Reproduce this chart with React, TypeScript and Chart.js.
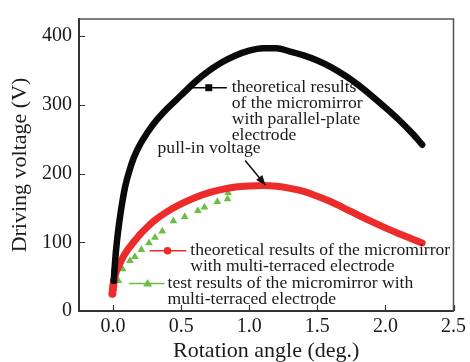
import React, { useEffect, useRef } from "react";
import { Chart, registerables } from "chart.js";

Chart.register(...registerables);

// Theoretical, parallel-plate electrode (black)
const parallelX = [0.005, 0.01, 0.015, 0.02, 0.03, 0.045, 0.065, 0.09, 0.12, 0.15, 0.2, 0.25, 0.3, 0.4, 0.5, 0.6, 0.7, 0.8, 0.9, 1.0, 1.1, 1.2, 1.3, 1.4, 1.5, 1.6, 1.7, 1.8, 1.9, 2.0, 2.1, 2.2, 2.27];
const parallelY = [44, 58, 72, 84, 104, 128, 155, 182, 204, 222, 243, 259, 273, 295, 314, 333, 349, 362, 372, 379, 382.5, 382.5, 377.5, 372, 364.5, 355, 343, 329, 313, 296, 278, 258, 242];

// Theoretical, multi-terraced electrode (red)
const terracedX = [-0.005, -0.002, 0.002, 0.006, 0.015, 0.03, 0.05, 0.075, 0.1, 0.15, 0.2, 0.25, 0.3, 0.4, 0.5, 0.6, 0.7, 0.8, 0.9, 1.0, 1.1, 1.2, 1.3, 1.4, 1.5, 1.6, 1.7, 1.8, 1.9, 2.0, 2.1, 2.2, 2.27];
const terracedY = [25, 31, 37, 43, 52, 60, 69, 79, 87, 100, 112, 122, 131, 145, 156, 165, 172, 177, 180.5, 182, 182.5, 181.5, 178.5, 174, 167, 159, 149.5, 139.5, 130, 121, 112.5, 104.5, 99];

// Test results, multi-terraced electrode (green)
const testX = [0.039, 0.07, 0.124, 0.16, 0.208, 0.264, 0.308, 0.361, 0.443, 0.526, 0.623, 0.671, 0.766, 0.841, 0.845];
const testY = [44, 61, 73, 79, 89, 99, 107, 116, 131, 137, 146, 151, 159, 163, 172];

const xTicks = [0, 0.5, 1.0, 1.5, 2.0, 2.5];
const yTicks = [0, 100, 200, 300, 400];

const blackLabel = ["theoretical results", "of the micromirror", "with parallel-plate", "electrode"];
const redLabel = ["theoretical results of the micromirror", "with multi-terraced electrode"];
const greenLabel = ["test results of the micromirror with", "multi-terraced electrode"];
const pullInLabel = "pull-in voltage";

const BLACK = "#0a0a0a";
const RED = "#ee2b2b";
const GREEN = "#6dbd45";
const SERIF = "'Liberation Serif', 'Times New Roman', serif";

const toPts = (xs: number[], ys: number[]) => xs.map((x, i) => ({ x, y: ys[i] }));

const annotationPlugin = {
  id: "annots",
  afterDraw(chart: any) {
    const { ctx, chartArea, scales } = chart;
    const xs = scales.x;
    const ys = scales.y;
    const px = (v: number) => xs.getPixelForValue(v);
    const py = (v: number) => ys.getPixelForValue(v);
    ctx.save();
    // frame top/right
    ctx.strokeStyle = "#555";
    ctx.lineWidth = 1.5;
    ctx.beginPath();
    ctx.moveTo(chartArea.left, chartArea.top);
    ctx.lineTo(chartArea.right, chartArea.top);
    ctx.lineTo(chartArea.right, chartArea.bottom);
    ctx.stroke();
    // inward ticks
    ctx.strokeStyle = "#333";
    ctx.lineWidth = 1.2;
    ctx.beginPath();
    xs.ticks.forEach((t: any) => {
      const x = Math.round(px(t.value)) + 0.5;
      ctx.moveTo(x, chartArea.bottom);
      ctx.lineTo(x, chartArea.bottom - 6);
    });
    ys.ticks.forEach((t: any) => {
      const y = Math.round(py(t.value)) + 0.5;
      ctx.moveTo(chartArea.left, y);
      ctx.lineTo(chartArea.left + 6, y);
    });
    ctx.stroke();

    ctx.font = `17.6px ${SERIF}`;
    ctx.textBaseline = "middle";
    ctx.textAlign = "left";
    ctx.fillStyle = "#1a1a1a";
    const lineStep = 16;

    const drawLines = (lines: string[], x: number, y: number) => {
      lines.forEach((s, i) => ctx.fillText(s, x, y + i * lineStep));
    };

    // black legend entry
    {
      const y = py(325);
      ctx.strokeStyle = BLACK;
      ctx.lineWidth = 1.5;
      ctx.beginPath();
      ctx.moveTo(px(0.574), y);
      ctx.lineTo(px(0.836), y);
      ctx.stroke();
      ctx.fillStyle = BLACK;
      ctx.fillRect(px(0.703) - 3.5, y - 3.5, 7, 7);
      ctx.fillStyle = "#1a1a1a";
      drawLines(blackLabel, px(0.872), y);
    }
    // pull-in label + arrow
    {
      ctx.fillText(pullInLabel, px(0.327), py(236));
      const x0 = px(0.97), y0 = py(219);
      const x1 = px(1.12), y1 = py(183);
      ctx.strokeStyle = "#111";
      ctx.lineWidth = 1.5;
      ctx.beginPath();
      ctx.moveTo(x0, y0);
      ctx.lineTo(x1, y1);
      ctx.stroke();
      const ang = Math.atan2(y1 - y0, x1 - x0);
      const L = 10, W = 4;
      ctx.fillStyle = "#111";
      ctx.beginPath();
      ctx.moveTo(x1, y1);
      ctx.lineTo(x1 - L * Math.cos(ang) + W * Math.sin(ang), y1 - L * Math.sin(ang) - W * Math.cos(ang));
      ctx.lineTo(x1 - L * Math.cos(ang) - W * Math.sin(ang), y1 - L * Math.sin(ang) + W * Math.cos(ang));
      ctx.closePath();
      ctx.fill();
      ctx.fillStyle = "#1a1a1a";
    }
    // red legend entry
    {
      const y = py(87.7);
      ctx.strokeStyle = RED;
      ctx.lineWidth = 1.5;
      ctx.beginPath();
      ctx.moveTo(px(0.269), y);
      ctx.lineTo(px(0.538), y);
      ctx.stroke();
      ctx.fillStyle = RED;
      ctx.beginPath();
      ctx.arc(px(0.4), y, 3.8, 0, Math.PI * 2);
      ctx.fill();
      ctx.fillStyle = "#1a1a1a";
      drawLines(redLabel, px(0.567), y);
    }
    // green legend entry
    {
      const y = py(39.9);
      ctx.strokeStyle = GREEN;
      ctx.lineWidth = 1.5;
      ctx.beginPath();
      ctx.moveTo(px(0.116), y);
      ctx.lineTo(px(0.378), y);
      ctx.stroke();
      ctx.fillStyle = GREEN;
      const cx = px(0.254);
      ctx.beginPath();
      ctx.moveTo(cx, y - 4.5);
      ctx.lineTo(cx + 4.5, y + 3);
      ctx.lineTo(cx - 4.5, y + 3);
      ctx.closePath();
      ctx.fill();
      ctx.fillStyle = "#1a1a1a";
      drawLines(greenLabel, px(0.4), y);
    }
    ctx.restore();
  },
};

export default function App() {
  const ref = useRef<HTMLCanvasElement | null>(null);
  useEffect(() => {
    if (!ref.current) return;
    const chart = new Chart(ref.current, {
      type: "scatter",
      data: {
        datasets: [
          {
            label: "parallel",
            data: toPts(parallelX, parallelY),
            showLine: true,
            borderColor: BLACK,
            backgroundColor: BLACK,
            borderWidth: 6.5,
            borderCapStyle: "round",
            borderJoinStyle: "round",
            cubicInterpolationMode: "monotone",
            pointStyle: "rect",
            pointRadius: (c: any) => (c.dataIndex < 4 ? 4 : 0),
            pointBorderWidth: 0,
          } as any,
          {
            label: "terraced",
            data: toPts(terracedX, terracedY),
            showLine: true,
            borderColor: RED,
            backgroundColor: RED,
            borderWidth: 7,
            borderCapStyle: "round",
            borderJoinStyle: "round",
            cubicInterpolationMode: "monotone",
            pointStyle: "circle",
            pointRadius: (c: any) => (c.dataIndex < 4 ? 4 : 0),
            pointBorderWidth: 0,
          } as any,
          {
            label: "test",
            data: toPts(testX, testY),
            showLine: false,
            borderColor: GREEN,
            backgroundColor: GREEN,
            pointStyle: "triangle",
            pointRadius: 4.5,
            pointBorderWidth: 0,
          } as any,
        ],
      },
      options: {
        responsive: false,
        animation: false,
        events: [],
        layout: { padding: { top: 9, right: 13, left: 0, bottom: 0 } },
        plugins: { legend: { display: false }, tooltip: { enabled: false } },
        scales: {
          x: {
            type: "linear",
            min: -0.25,
            max: 2.5,
            afterBuildTicks: (s: any) => {
              s.ticks = xTicks.map((v) => ({ value: v }));
            },
            afterFit: (s: any) => {
              s.height = 51;
            },
            grid: { display: false, drawTicks: false },
            border: { display: true, color: "#333", width: 2 },
            ticks: {
              padding: 4,
              color: "#1a1a1a",
              font: { family: SERIF, size: 20 },
              callback: (v: any) => Number(v).toFixed(1),
              maxRotation: 0,
            },
            title: {
              display: true,
              text: "Rotation angle (deg.)",
              color: "#1a1a1a",
              font: { family: SERIF, size: 22, lineHeight: 1 },
              padding: { top: 0, bottom: 0 },
            },
          },
          y: {
            type: "linear",
            min: 0,
            max: 425,
            afterBuildTicks: (s: any) => {
              s.ticks = yTicks.map((v) => ({ value: v }));
            },
            afterFit: (s: any) => {
              s.width = 79;
            },
            grid: { display: false, drawTicks: false },
            border: { display: true, color: "#333", width: 2 },
            ticks: {
              padding: 7,
              color: "#1a1a1a",
              font: { family: SERIF, size: 20 },
              callback: (v: any) => String(v),
            },
            title: {
              display: true,
              text: "Driving voltage (V)",
              color: "#1a1a1a",
              font: { family: SERIF, size: 22, lineHeight: 1 },
              padding: { top: 9, bottom: 0 },
            },
          },
        },
      },
      plugins: [annotationPlugin],
    } as any);
    return () => chart.destroy();
  }, []);
  return (
    <div style={{ position: "fixed", left: 0, top: 0, width: 470, height: 362, background: "#fff" }}>
      <canvas ref={ref} width={470} height={362} style={{ width: 470, height: 362, display: "block" }} />
    </div>
  );
}
